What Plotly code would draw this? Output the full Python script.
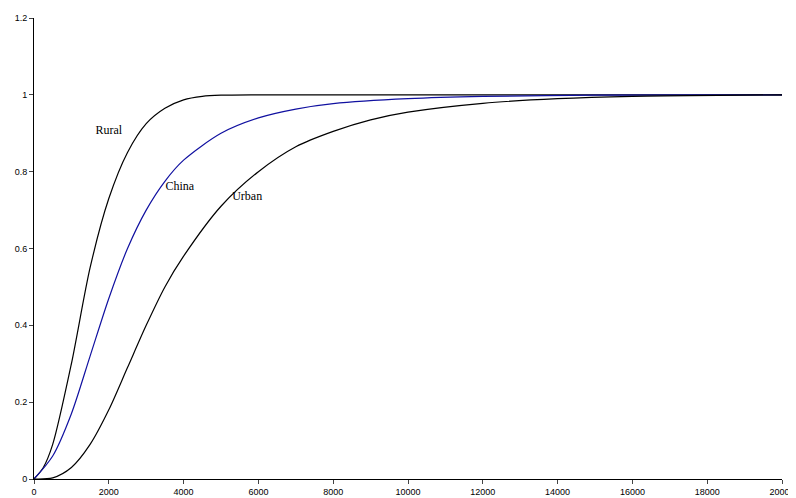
import plotly.graph_objects as go

rural_x = [0, 250, 500, 1000, 1500, 2000, 2500, 3000, 3500, 4000, 4500, 5000, 6000, 20000]
rural_y = [0, 0.03, 0.09, 0.3, 0.55, 0.73, 0.85, 0.925, 0.965, 0.987, 0.996, 0.999, 1.0, 1.0]

china_x = [0, 500, 1000, 1500, 2000, 2500, 3000, 3500, 4000, 5000, 6000, 7000, 8000, 10000, 12000, 15000, 20000]
china_y = [0, 0.06, 0.17, 0.32, 0.47, 0.6, 0.7, 0.775, 0.83, 0.9, 0.94, 0.963, 0.977, 0.99, 0.996, 0.999, 1.0]

urban_x = [0, 500, 1000, 1500, 2000, 2500, 3000, 3500, 4000, 5000, 6000, 7000, 8000, 9000, 10000, 12000, 14000, 16000, 20000]
urban_y = [0, 0.003, 0.03, 0.09, 0.18, 0.29, 0.4, 0.5, 0.58, 0.71, 0.8, 0.865, 0.905, 0.935, 0.955, 0.978, 0.99, 0.996, 1.0]

labels = ["Rural", "China", "Urban"]
label_x = [2000, 3900, 5700]
label_y = [0.905, 0.76, 0.735]

tick_vals = list(range(0, 20001, 2000))

fig = go.Figure()
for xs, ys, c in [(rural_x, rural_y, "black"), (china_x, china_y, "#1010a0"), (urban_x, urban_y, "black")]:
    fig.add_trace(go.Scatter(x=xs, y=ys, mode="lines", line=dict(color=c, width=1.2, shape="spline", smoothing=0.8)))

fig.add_trace(go.Scatter(x=label_x, y=label_y, mode="text", text=labels,
                         textfont=dict(family="Liberation Serif", size=12, color="black")))

fig.update_layout(
    width=796, height=498, showlegend=False,
    plot_bgcolor="white", paper_bgcolor="white",
    margin=dict(l=26, r=22, t=10, b=27),
    font=dict(family="Liberation Sans", size=9, color="black"),
)
fig.update_xaxes(range=[0, 20000], tickmode="array", tickvals=tick_vals,
                 ticktext=[str(v) for v in tick_vals], showgrid=False, zeroline=False,
                 showline=True, linecolor="black", linewidth=1,
                 ticks="outside", ticklen=4, automargin=False)
fig.update_yaxes(range=[0, 1.2], tickmode="array", tickvals=[0, 0.2, 0.4, 0.6, 0.8, 1, 1.2],
                 ticktext=["0", "0.2", "0.4", "0.6", "0.8", "1", "1.2"], showgrid=False, zeroline=False,
                 showline=True, linecolor="black", linewidth=1,
                 ticks="outside", ticklen=4, automargin=False)

fig.write_html("out.html")
